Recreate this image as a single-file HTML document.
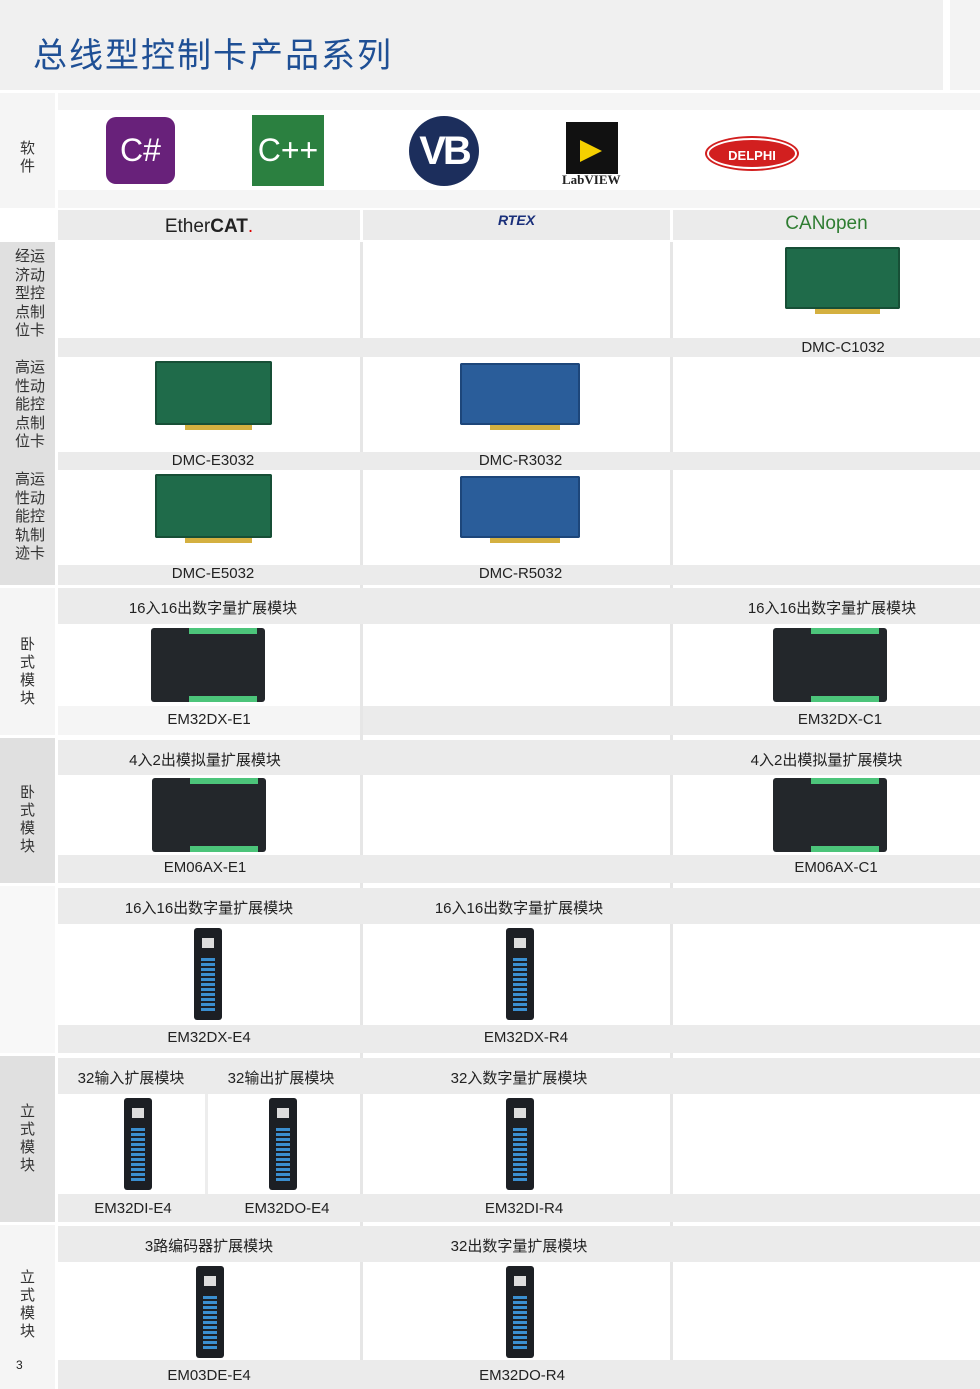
<!DOCTYPE html>
<html><head><meta charset="utf-8"><style>
*{margin:0;padding:0;box-sizing:border-box}
body{width:980px;height:1389px;position:relative;background:#fff;font-family:"Liberation Sans","Noto Sans CJK SC",sans-serif;overflow:hidden;color:#222}
.a{position:absolute}
.g{background:#ebebeb}.l{background:#f5f5f5}.d{background:#e0e0e0}
.t{position:absolute;text-align:center;font-size:15px;color:#222}
.v{position:absolute;font-size:15px;color:#333;text-align:center;line-height:18px}
.pcb{position:absolute;border-radius:2px;background:#1f6b4a;box-shadow:inset 0 0 0 2px #174f36}
.pcb.b{background:#2a5d9a;box-shadow:inset 0 0 0 2px #1d467a}
.pcb:after{content:"";position:absolute;left:30px;right:20px;bottom:-5px;height:5px;background:#d4b040}
.hm{position:absolute;width:114px;height:74px;background:#23272b;border-radius:3px}
.hm:before{content:"";position:absolute;left:38px;right:8px;top:0;height:6px;background:#4cc47a}
.hm:after{content:"";position:absolute;left:38px;right:8px;bottom:0;height:6px;background:#4cc47a}
.vm{position:absolute;width:28px;height:92px;background:#1c1f24;border-radius:3px}
.vm:after{content:"";position:absolute;left:7px;right:7px;top:30px;bottom:8px;background:repeating-linear-gradient(#3b8fd0 0 3px,#1c1f24 3px 5px)}
.vm:before{content:"";position:absolute;left:8px;top:10px;width:12px;height:10px;background:#ddd}
</style></head><body>
<div class="a" style="left:0;top:0;width:943px;height:90px;background:#f0f0f0"></div>
<div class="a" style="left:950;top:0;left:950px;width:30px;height:90px;background:#f3f3f3"></div>
<div class="a" style="left:33px;top:28px;font-size:34px;color:#1e4f95;letter-spacing:2px">总线型控制卡产品系列</div>

<!-- software -->
<div class="a l" style="left:0;top:93px;width:55px;height:115px"></div>
<div class="v" style="left:0;top:140px;width:55px">软<br>件</div>
<div class="a l" style="left:58px;top:93px;width:922px;height:17px"></div>
<div class="a l" style="left:58px;top:190px;width:922px;height:18px"></div>
<div class="a" style="left:106px;top:117px;width:69px;height:67px;background:#68217a;border-radius:10px;color:#fff;font-size:32px;text-align:center;line-height:67px">C#</div>
<div class="a" style="left:252px;top:115px;width:72px;height:71px;background:#2b8040;color:#fff;font-size:32px;text-align:center;line-height:71px">C++</div>
<div class="a" style="left:409px;top:116px;width:70px;height:70px;background:#1c2e5c;border-radius:50%;color:#fff;font-size:40px;font-weight:bold;text-align:center;line-height:70px;letter-spacing:-3px">VB</div>
<div class="a" style="left:566px;top:122px;width:52px;height:52px;background:#111"></div>
<div class="a" style="left:580px;top:140px;width:0;height:0;border-left:22px solid #f5d000;border-top:11px solid transparent;border-bottom:11px solid transparent"></div>
<div class="a" style="left:562px;top:172px;font-size:13px;font-weight:bold;font-family:'Liberation Serif',serif">LabVIEW</div>
<div class="a" style="left:707px;top:138px;width:90px;height:31px;background:#d21f1f;border-radius:50%;color:#fff;font-size:13px;font-weight:bold;text-align:center;line-height:31px;border:2px solid #fff;box-shadow:0 0 0 2px #d21f1f">DELPHI</div>

<!-- bus headers -->
<div class="a g" style="left:58px;top:210px;width:302px;height:30px"></div>
<div class="a g" style="left:363px;top:210px;width:307px;height:30px"></div>
<div class="a g" style="left:673px;top:210px;width:307px;height:30px"></div>
<div class="t" style="left:58px;top:216px;width:302px;font-size:19px">Ether<b>CAT</b><span style="color:#d00">.</span></div>
<div class="t" style="left:363px;top:212px;width:307px;font-size:14px;font-style:italic;font-weight:bold;color:#1a2f7a">RTEX</div>
<div class="t" style="left:673px;top:213px;width:307px;font-size:19px;color:#2f7d32">CANopen</div>

<!-- cards -->
<div class="a d" style="left:0;top:242px;width:55px;height:343px"></div>
<div class="v" style="left:14px;top:248px;width:32px;line-height:18.5px">经运<br>济动<br>型控<br>点制<br>位卡</div>
<div class="v" style="left:14px;top:359px;width:32px;line-height:18.5px">高运<br>性动<br>能控<br>点制<br>位卡</div>
<div class="v" style="left:14px;top:471px;width:32px;line-height:18.5px">高运<br>性动<br>能控<br>轨制<br>迹卡</div>
<div class="a" style="left:360px;top:242px;width:3px;height:1147px;background:#e6e6e6"></div>
<div class="a" style="left:670px;top:242px;width:3px;height:1147px;background:#e6e6e6"></div>
<div class="a g" style="left:58px;top:338px;width:922px;height:19px"></div>
<div class="a g" style="left:58px;top:452px;width:922px;height:18px"></div>
<div class="a g" style="left:58px;top:565px;width:922px;height:20px"></div>
<div class="t" style="left:673px;top:339px;width:340px">DMC-C1032</div>
<div class="t" style="left:58px;top:452px;width:310px">DMC-E3032</div>
<div class="t" style="left:363px;top:452px;width:315px">DMC-R3032</div>
<div class="t" style="left:58px;top:565px;width:310px">DMC-E5032</div>
<div class="t" style="left:363px;top:565px;width:315px">DMC-R5032</div>
<div class="pcb" style="left:785px;top:247px;width:115px;height:62px"></div>
<div class="pcb" style="left:155px;top:361px;width:117px;height:64px"></div>
<div class="pcb b" style="left:460px;top:363px;width:120px;height:62px"></div>
<div class="pcb" style="left:155px;top:474px;width:117px;height:64px"></div>
<div class="pcb b" style="left:460px;top:476px;width:120px;height:62px"></div>

<!-- section 1 -->
<div class="a l" style="left:0;top:588px;width:55px;height:147px"></div>
<div class="v" style="left:0;top:636px;width:55px">卧<br>式<br>模<br>块</div>
<div class="a g" style="left:58px;top:588px;width:922px;height:36px"></div>
<div class="a l" style="left:58px;top:706px;width:302px;height:29px"></div>
<div class="a g" style="left:363px;top:706px;width:617px;height:29px"></div>
<div class="t" style="left:58px;top:597px;width:310px">16入16出数字量扩展模块</div>
<div class="t" style="left:673px;top:597px;width:318px">16入16出数字量扩展模块</div>
<div class="hm" style="left:151px;top:628px"></div>
<div class="hm" style="left:773px;top:628px"></div>
<div class="t" style="left:58px;top:711px;width:302px">EM32DX-E1</div>
<div class="t" style="left:673px;top:711px;width:334px">EM32DX-C1</div>

<!-- section 2 -->
<div class="a d" style="left:0;top:738px;width:55px;height:145px"></div>
<div class="v" style="left:0;top:784px;width:55px">卧<br>式<br>模<br>块</div>
<div class="a g" style="left:58px;top:740px;width:922px;height:35px"></div>
<div class="a g" style="left:58px;top:855px;width:922px;height:28px"></div>
<div class="t" style="left:58px;top:749px;width:294px">4入2出模拟量扩展模块</div>
<div class="t" style="left:673px;top:749px;width:307px">4入2出模拟量扩展模块</div>
<div class="hm" style="left:152px;top:778px"></div>
<div class="hm" style="left:773px;top:778px"></div>
<div class="t" style="left:58px;top:859px;width:294px">EM06AX-E1</div>
<div class="t" style="left:673px;top:859px;width:326px">EM06AX-C1</div>

<!-- section 3 -->
<div class="a l" style="left:0;top:886px;width:55px;height:167px;background:#f8f8f8"></div>
<div class="a g" style="left:58px;top:888px;width:922px;height:36px"></div>
<div class="a g" style="left:58px;top:1025px;width:922px;height:28px"></div>
<div class="t" style="left:58px;top:897px;width:302px">16入16出数字量扩展模块</div>
<div class="t" style="left:363px;top:897px;width:312px">16入16出数字量扩展模块</div>
<div class="vm" style="left:194px;top:928px"></div>
<div class="vm" style="left:506px;top:928px"></div>
<div class="t" style="left:58px;top:1029px;width:302px">EM32DX-E4</div>
<div class="t" style="left:363px;top:1029px;width:326px">EM32DX-R4</div>

<!-- section 4 -->
<div class="a d" style="left:0;top:1056px;width:55px;height:166px"></div>
<div class="v" style="left:0;top:1103px;width:55px">立<br>式<br>模<br>块</div>
<div class="a g" style="left:58px;top:1058px;width:922px;height:36px"></div>
<div class="a g" style="left:58px;top:1194px;width:922px;height:28px"></div>
<div class="a" style="left:205px;top:1094px;width:3px;height:100px;background:#ededed"></div>
<div class="t" style="left:58px;top:1067px;width:146px">32输入扩展模块</div>
<div class="t" style="left:208px;top:1067px;width:146px">32输出扩展模块</div>
<div class="t" style="left:363px;top:1067px;width:312px">32入数字量扩展模块</div>
<div class="vm" style="left:124px;top:1098px"></div>
<div class="vm" style="left:269px;top:1098px"></div>
<div class="vm" style="left:506px;top:1098px"></div>
<div class="t" style="left:58px;top:1200px;width:150px">EM32DI-E4</div>
<div class="t" style="left:212px;top:1200px;width:150px">EM32DO-E4</div>
<div class="t" style="left:363px;top:1200px;width:322px">EM32DI-R4</div>

<!-- section 5 -->
<div class="a l" style="left:0;top:1225px;width:55px;height:164px"></div>
<div class="v" style="left:0;top:1269px;width:55px">立<br>式<br>模<br>块</div>
<div class="a" style="left:16px;top:1358px;font-size:12px">3</div>
<div class="a g" style="left:58px;top:1226px;width:922px;height:36px"></div>
<div class="a g" style="left:58px;top:1360px;width:922px;height:29px"></div>
<div class="t" style="left:58px;top:1235px;width:302px">3路编码器扩展模块</div>
<div class="t" style="left:363px;top:1235px;width:312px">32出数字量扩展模块</div>
<div class="vm" style="left:196px;top:1266px"></div>
<div class="vm" style="left:506px;top:1266px"></div>
<div class="t" style="left:58px;top:1367px;width:302px">EM03DE-E4</div>
<div class="t" style="left:363px;top:1367px;width:318px">EM32DO-R4</div>
</body></html>
